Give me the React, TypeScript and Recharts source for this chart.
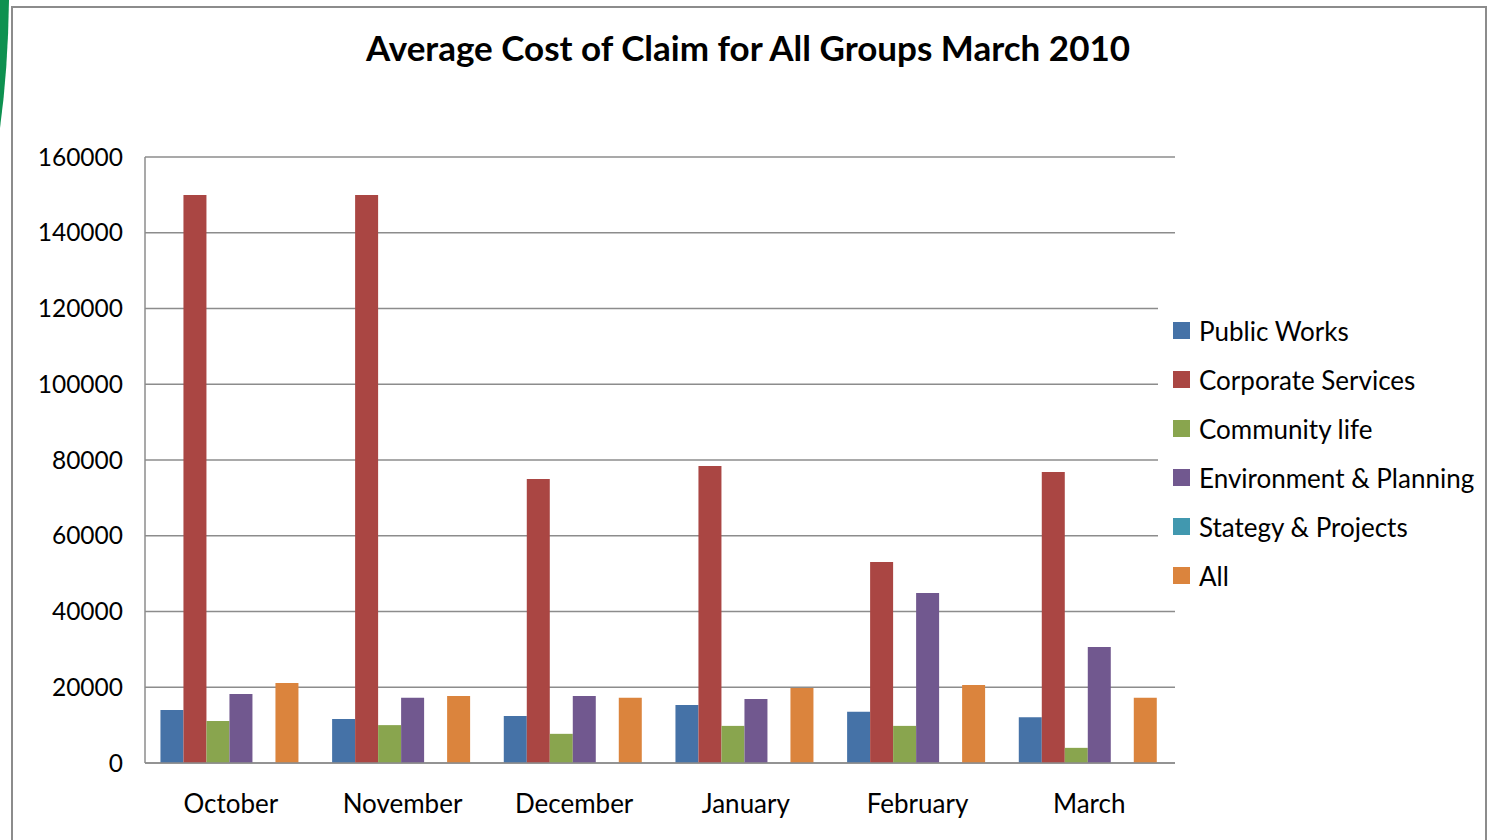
import React from "react";
import { BarChart, Bar, XAxis, YAxis, CartesianGrid, Legend } from "recharts";

const categories = ["October", "November", "December", "January", "February", "March"];
const publicWorks = [14000, 11600, 12400, 15300, 13500, 12100];
const corporateServices = [150000, 150000, 75000, 78400, 53100, 76800];
const communityLife = [11100, 10000, 7700, 9800, 9800, 4000];
const environmentPlanning = [18200, 17200, 17700, 16900, 44900, 30600];
const strategyProjects = [0, 0, 0, 0, 0, 0];
const allGroups = [21100, 17700, 17200, 19800, 20600, 17200];
const yTicks = [0, 20000, 40000, 60000, 80000, 100000, 120000, 140000, 160000];

const seriesNames = [
  "Public Works",
  "Corporate Services",
  "Community life",
  "Environment & Planning",
  "Stategy & Projects",
  "All",
];
const seriesColors = ["#4572A7", "#AA4643", "#89A54E", "#71588F", "#4198AF", "#DB843D"];
const seriesValues = [publicWorks, corporateServices, communityLife, environmentPlanning, strategyProjects, allGroups];

const data = categories.map((c, i) => {
  const row: Record<string, string | number> = { month: c };
  seriesNames.forEach((n, k) => {
    row[n] = seriesValues[k][i];
  });
  return row;
});

const FONT = "Lato, 'Open Sans', sans-serif";

const LegendContent = () => (
  <div style={{ fontFamily: FONT, paddingTop: 16, paddingLeft: 15, background: "#fff", height: 300, boxSizing: "border-box" }}>
    {seriesNames.map((n, k) => (
      <div
        key={n}
        style={{ display: "flex", alignItems: "center", height: 49, whiteSpace: "nowrap" }}
      >
        <div style={{ width: 17, height: 17, background: seriesColors[k], marginRight: 9 }} />
        <span style={{ fontSize: 26, color: "#000" }}>{n}</span>
      </div>
    ))}
  </div>
);

export default function App() {
  return (
    <div style={{ position: "fixed", left: 0, top: 0, width: 1490, height: 840, background: "#fff", overflow: "hidden" }}>
      <svg width={1490} height={840} style={{ position: "absolute", left: 0, top: 0 }}>
        <path d="M0,0 L9,0 Q8,70 0,128 Z" fill="#0E9150" />
        <rect x={12} y={7} width={1474} height={900} fill="none" stroke="#8C8C8C" strokeWidth={2} />
        <text
          x={748}
          y={61}
          textAnchor="middle"
          fontFamily={FONT}
          fontWeight={700}
          fontSize={35}
          fill="#000"
        >
          Average Cost of Claim for All Groups March 2010
        </text>
      </svg>
      <div style={{ position: "absolute", left: 0, top: 0 }}>
        <BarChart
          width={1490}
          height={840}
          data={data}
          margin={{ top: 157, right: 315, bottom: 17, left: 45 }}
          barCategoryGap="9%"
          barGap={0}
        >
          <CartesianGrid vertical={false} stroke="#8C8C8C" strokeWidth={1.5} />
          <XAxis
            dataKey="month"
            tickLine={false}
            tickSize={0}
            tickMargin={32}
            height={60}
            axisLine={{ stroke: "#8C8C8C", strokeWidth: 1.5 }}
            tick={{ fill: "#000", fontSize: 26, fontFamily: FONT }}
          />
          <YAxis
            width={100}
            domain={[0, 160000]}
            ticks={yTicks}
            interval={0}
            tickLine={false}
            tickSize={0}
            tickMargin={22}
            axisLine={{ stroke: "#8C8C8C", strokeWidth: 1.5 }}
            tick={{ fill: "#000", fontSize: 24.5, fontFamily: FONT }}
          />
          <Legend
            layout="horizontal"
            align="center"
            verticalAlign="middle"
            content={<LegendContent />}
            wrapperStyle={{
              position: "absolute",
              left: 1158,
              top: 290,
              width: 326,
              right: "auto",
              bottom: "auto",
              zIndex: 5,
            }}
          />
          {seriesNames.map((n, k) => (
            <Bar key={n} dataKey={n} fill={seriesColors[k]} isAnimationActive={false} />
          ))}
        </BarChart>
      </div>
    </div>
  );
}
